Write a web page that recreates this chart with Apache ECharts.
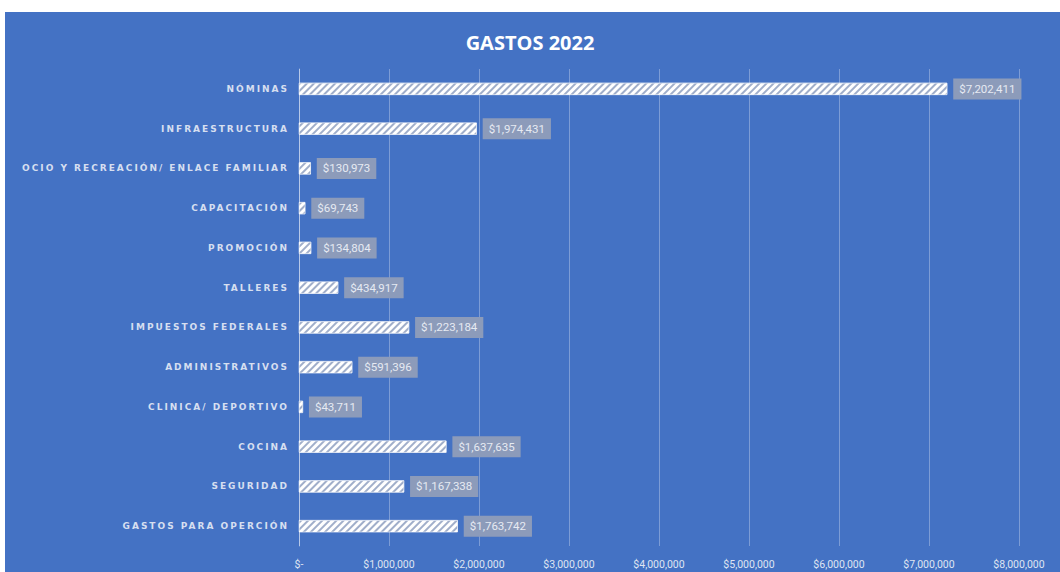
<!DOCTYPE html>
<html><head><meta charset="utf-8">
<script src="https://cdn.jsdelivr.net/npm/echarts@6/dist/echarts.min.js"></script>
<style>html,body{margin:0;padding:0;background:#fff}#c{width:1060px;height:572px}</style>
</head><body><div id="c"></div>
<script>
const categories = ["NÓMINAS","INFRAESTRUCTURA","OCIO Y RECREACIÓN/ ENLACE FAMILIAR","CAPACITACIÓN","PROMOCIÓN","TALLERES","IMPUESTOS FEDERALES","ADMINISTRATIVOS","CLINICA/ DEPORTIVO","COCINA","SEGURIDAD","GASTOS PARA OPERCIÓN"];
const values = [7202411,1974431,130973,69743,134804,434917,1223184,591396,43711,1637635,1167338,1763742];
const title = "GASTOS 2022";

const fmt = v => v === 0 ? "$-" : "$" + v.toLocaleString("en-US");
const chart = echarts.init(document.getElementById('c'), null, {renderer:'svg'});
chart.setOption({
  animation:false,
  backgroundColor:'#ffffff',
  graphic:[{type:'rect', z:-10, shape:{x:5,y:12,width:1060,height:570}, style:{fill:'#4472C4'}}],
  title:{text:title, left:'center', top:27, textStyle:{color:'#ffffff', fontSize:20, fontWeight:'bold', fontFamily:'Open Sans'}},
  grid:{left:299, right:41, top:69, bottom:26, containLabel:false},
  xAxis:{type:'value', min:0, max:8000000, interval:1000000,
    axisLine:{show:false}, axisTick:{show:false},
    splitLine:{lineStyle:{color:'rgba(255,255,255,0.3)', width:1}},
    axisLabel:{color:'#dfe5f2', fontSize:10.5, fontFamily:'Liberation Sans Narrow, Roboto', margin:13, formatter:fmt}},
  yAxis:{type:'category', inverse:true, data:categories,
    axisLine:{lineStyle:{color:'rgba(255,255,255,0.45)'}},
    axisTick:{length:4, lineStyle:{color:'rgba(255,255,255,0.45)'}},
    axisLabel:{color:'#d6dff0', fontSize:9, fontWeight:'bold', fontFamily:'DejaVu Sans, Open Sans', margin:10}},
  series:[{type:'bar', data:values, barWidth:12,
    itemStyle:{color:'#ffffff', borderColor:'#ffffff', borderWidth:0.5,
      decal:{symbol:'rect', symbolSize:1, dashArrayX:[1,0], dashArrayY:[1.2,2.2], rotation:-Math.PI/4, color:'rgba(120,140,180,0.7)'}},
    label:{show:true, position:'right', distance:6, formatter:p=>fmt(p.value),
      color:'#e6eaf2', fontSize:11.5, fontFamily:'Liberation Sans Narrow, Roboto',
      backgroundColor:'#8c9bba', padding:[5,6,4,6]}}]
});
function spacing(){
  const set = new Set(categories);
  document.querySelectorAll('#c svg text').forEach(t=>{
    if(set.has(t.textContent)) t.style.letterSpacing='2px';
  });
}
chart.on('finished', spacing);
spacing();
</script></body></html>
